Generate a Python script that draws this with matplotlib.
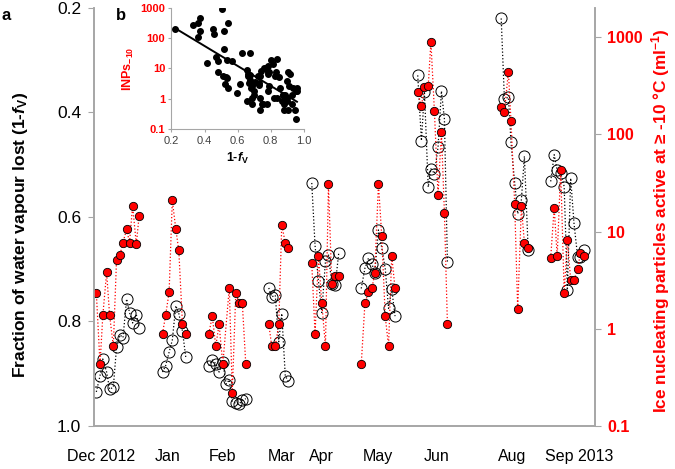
## import libraries ##
import numpy as np
import matplotlib.pyplot as plt
from matplotlib.ticker import NullLocator

plt.rcParams['font.family'] = ['Liberation Sans', 'DejaVu Sans']
plt.rcParams['mathtext.fontset'] = 'custom'
plt.rcParams['mathtext.rm'] = 'Liberation Sans'
plt.rcParams['mathtext.it'] = 'Liberation Sans:italic'
plt.rcParams['mathtext.bf'] = 'Liberation Sans:bold'
plt.rcParams['mathtext.bfit'] = 'Liberation Sans:italic:bold'

## data: sample position, 1-fV (left axis), INP at -10 C (right axis) ##
pos_dec = [2.5, 6.2, 9, 12.8, 15.8, 19.5, 22.7, 26.2, 29.2, 32.8, 35.7, 38.8, 42.5, 45.3]
fv_dec = [0.935, 0.904, 0.872, 0.897, 0.930, 0.926, 0.850, 0.826, 0.831, 0.757, 0.783, 0.803, 0.787, 0.812]
inp_dec = [2.35, 0.43, 1.37, 3.8, 1.37, 0.66, 5.1, 5.8, 7.7, 10.6, 7.7, 18.4, 7.4, 14.5]

pos_jan = [68.7, 71.8, 75.3, 78.5, 82, 85, 88.7, 92]
fv_jan = [0.897, 0.885, 0.859, 0.836, 0.770, 0.785, 0.819, 0.869]
inp_jan = [0.89, 1.37, 2.37, 20.9, 10.6, 6.4, 1.11, 0.89]

pos_feb = [115, 118.5, 122, 125.3, 129, 132.3, 135.5, 138.5, 142, 145, 148.5, 152]
fv_feb = [0.885, 0.874, 0.881, 0.897, 0.878, 0.920, 0.912, 0.953, 0.957, 0.959, 0.951, 0.948]
inp_feb = [0.89, 1.34, 0.66, 1.11, 0.43, np.nan, 2.64, 0.22, 2.35, 1.86, 1.86, 0.43]

pos_mar = [175, 178, 181.5, 185, 188, 191.5, 194.5]
fv_mar = [0.736, 0.753, 0.750, 0.839, 0.785, 0.904, 0.915]
inp_mar = [1.11, 0.66, 0.66, 1.11, 11.8, 7.6, 6.8]

pos_apr = [218, 221.3, 224.7, 228, 231.7, 234.7, 238, 241.5, 245]
fv_apr = [0.535, 0.655, 0.723, 0.783, 0.685, 0.672, 0.728, 0.730, 0.669]
inp_apr = [4.7, 0.89, 5.6, 1.84, 0.66, 31, 2.9, 3.45, 3.45]

pos_may = [267.5, 271.2, 274.7, 278.2, 281, 284.7, 288, 291.5, 294.8, 298, 301.3]
fv_may = [0.737, 0.698, 0.679, 0.690, 0.707, 0.625, 0.659, 0.699, 0.775, 0.738, 0.790]
inp_may = [0.43, 1.84, 2.36, 2.6, 3.7, 31, 9.0, 1.34, 0.66, 5.6, 2.6]

pos_jun = [324, 327.7, 330.7, 334.5, 337.2, 340.7, 344.3, 347.7, 350.7, 353.7]
fv_jun = [0.329, 0.454, 0.360, 0.543, 0.508, 0.517, 0.467, 0.359, 0.413, 0.686]
inp_jun = [273, 194, 310, 314, 895, 172, 23.8, 105, 15.6, 1.11]

pos_aug = [407.5, 410.7, 414.7, 417.3, 421, 424, 427.7, 430.7, 434.5]
fv_aug = [0.220, 0.374, 0.371, 0.457, 0.535, 0.594, 0.567, 0.484, 0.664]
inp_aug = [193, 171, 440, 136, 19.2, 1.58, 18.2, 7.66, 6.8]

pos_sep = [457, 460.5, 463.5, 467, 470.5, 473.7, 477, 480.3, 484, 486.7, 490.5]
fv_sep = [0.532, 0.481, 0.511, 0.515, 0.542, 0.740, 0.526, 0.612, 0.677, 0.676, 0.664]
inp_sep = [5.37, 17.6, 5.54, 43, 2.35, 8.15, 3.18, 3.18, 4.07, 6.05, 5.64]

month_labels = ['Dec 2012', 'Jan', 'Feb', 'Mar', 'Apr', 'May', 'Jun', 'Aug', 'Sep 2013']
month_pos = [7, 74, 129, 188, 228, 284, 343, 418, 486]

groups = [(pos_dec, fv_dec, inp_dec), (pos_jan, fv_jan, inp_jan), (pos_feb, fv_feb, inp_feb),
          (pos_mar, fv_mar, inp_mar), (pos_apr, fv_apr, inp_apr), (pos_may, fv_may, inp_may),
          (pos_jun, fv_jun, inp_jun), (pos_aug, fv_aug, inp_aug), (pos_sep, fv_sep, inp_sep)]

RED = '#ff0000'
GREY = '#a6a6a6'

## main plot ##
fig = plt.figure(figsize=(6.75, 4.69), dpi=100)
ax = fig.add_axes([0.139, 0.092, 0.742, 0.891])
ax2 = ax.twinx()

for p, fv, inp in groups:
    p = np.array(p)
    fv = np.array(fv)
    inp = np.array(inp)
    ax.plot(p, fv, ls=':', color='black', lw=0.9, marker='o', ms=8,
            mfc='none', mec='black', mew=0.7)
    ok = np.isfinite(inp)
    ax2.plot(p[ok], inp[ok], ls=':', color=RED, lw=0.9, marker='o', ms=6,
             mfc=RED, mec='black', mew=0.6)

ax.set_xlim(0, 501)
ax.set_ylim(1.0, 0.2)
ax.set_yticks([0.2, 0.4, 0.6, 0.8, 1.0], ['0.2', '0.4', '0.6', '0.8', '1.0'])
ax.set_xticks(month_pos, month_labels)
ax.tick_params(axis='x', length=0, labelsize=11.5, pad=17)
ax.tick_params(axis='y', length=4, color=GREY, labelsize=12.5, pad=5)

ax2.set_yscale('log')
ax2.set_ylim(0.1, 2000)
ax2.set_yticks([0.1, 1, 10, 100, 1000], ['0.1', '1', '10', '100', '1000'], fontweight='bold')
ax2.yaxis.set_minor_locator(NullLocator())
ax2.tick_params(axis='y', length=4, color=GREY, labelcolor=RED, labelsize=11.5, pad=5)

for a in (ax, ax2):
    a.spines['top'].set_visible(False)
    for s in ('left', 'right', 'bottom'):
        a.spines[s].set_color(GREY)
        a.spines[s].set_linewidth(1.2)

ax.set_ylabel(r'Fraction of water vapour lost (1-$\mathbfit{f}_\mathbf{V}$)',
              fontsize=12.5, fontweight='bold')
ax.yaxis.set_label_coords(-0.128, 0.457)
ax2.set_ylabel(r'Ice nucleating particles active at ≥ -10 °C (ml$^\mathbf{-1}$)',
               fontsize=12.4, fontweight='bold', color=RED)
ax2.yaxis.set_label_coords(1.108, 0.49)

fig.text(6 / 675, 1 - 15 / 469, 'a', fontsize=12, fontweight='bold', va='center', ha='center')
fig.text(121 / 675, 1 - 15 / 469, 'b', fontsize=12, fontweight='bold', va='center', ha='center')

## inset: INP vs 1-fV ##
all_fv = np.concatenate([g[1] for g in groups])
all_inp = np.concatenate([g[2] for g in groups])
ok = np.isfinite(all_inp)
all_fv = all_fv[ok]
all_inp = all_inp[ok]
slope, icpt = np.polyfit(all_fv, np.log10(all_inp), 1)
xl = np.array([all_fv.min(), all_fv.max()])

axi = fig.add_axes([0.254, 0.724, 0.196, 0.260])
axi.plot(all_fv, all_inp, 'o', color='black', ms=4)
axi.plot(xl, 10 ** (icpt + slope * xl), color='black', lw=1.4)
axi.set_yscale('log')
axi.set_xlim(0.2, 1.0)
axi.set_ylim(0.1, 1000)
axi.set_xticks([0.2, 0.4, 0.6, 0.8, 1.0], ['0.2', '0.4', '0.6', '0.8', '1.0'])
axi.set_yticks([0.1, 1, 10, 100, 1000], ['0.1', '1', '10', '100', '1000'], fontweight='bold')
axi.yaxis.set_minor_locator(NullLocator())
axi.tick_params(axis='x', length=2.5, color=GREY, labelsize=8, pad=2, labelcolor='#404040')
axi.tick_params(axis='y', length=2.5, color=GREY, labelsize=8, pad=2, labelcolor=RED)
axi.spines['top'].set_visible(False)
axi.spines['right'].set_visible(False)
axi.spines['left'].set_color(GREY)
axi.spines['bottom'].set_color(GREY)
axi.set_xlabel(r'1-$\mathbfit{f}_\mathbf{V}$', fontsize=9, fontweight='bold', labelpad=4)
axi.set_ylabel(r'INPs$_\mathbf{-10}$', fontsize=9, fontweight='bold', color=RED, labelpad=3)

fig.savefig('out.png', dpi=100)
